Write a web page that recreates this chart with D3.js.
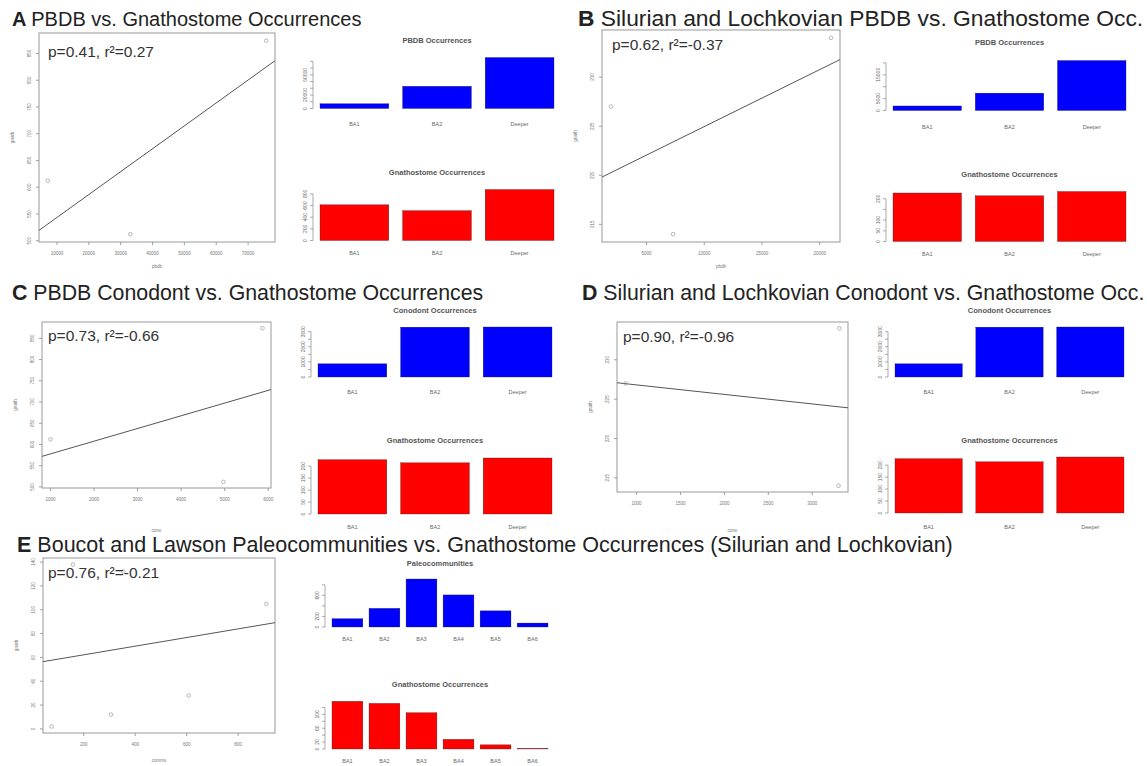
<!DOCTYPE html>
<html>
<head>
<meta charset="utf-8">
<script src="https://cdn.jsdelivr.net/npm/d3@7"></script>
<style>
  body { margin: 0; background: #fff; }
  svg { font-family: "Liberation Sans", Arial, sans-serif; }
</style>
</head>
<body>
<svg width="1147" height="766"></svg>
<script>
// categories
let zones3 = ["BA1", "BA2", "Deeper"];
let zones6 = ["BA1", "BA2", "BA3", "BA4", "BA5", "BA6"];

// occurrence counts per zone
let pbdbAll = [7100, 33000, 75700];
let gnathAll = [612, 512, 874];
let pbdbSilLoch = [1900, 7300, 21000];
let gnathSilLoch = [227, 214, 234];
let conoAll = [1000, 4970, 5870];
let conoSilLoch = [874, 3300, 3310];
let paleoComms = [158, 354, 910, 608, 306, 75];
let gnathComms = [138, 132, 105, 28, 12, 2];

// printed stats
let stats = ["p=0.41, r²=0.27", "p=0.62, r²=-0.37", "p=0.73, r²=-0.66", "p=0.90, r²=-0.96", "p=0.76, r²=-0.21"];

let blue = "#0000ff";
let red = "#ff0000";

let svg = d3.select("svg");
svg.append("rect").attr("width", 1147).attr("height", 766).attr("fill", "#fff");

// panel layout
let panels = [
  { letter: "A", title: "PBDB vs. Gnathostome Occurrences", tx: 12, ty: 26, fs: 20,
    x: pbdbAll, y: gnathAll, xName: "pbdb", stat: stats[0], sx: 48, sy: 57,
    box: [39, 33, 275, 242], xt: 7, yt: 8, xLabY: 268,
    top: { cats: zones3, vals: pbdbAll, title: "PBDB Occurrences", x0: 320, x1: 554, base: 108.5, h: 51, ty: 43, ly: 126 },
    bot: { cats: zones3, vals: gnathAll, title: "Gnathostome Occurrences", x0: 320, x1: 554, base: 240.5, h: 51, ty: 175, ly: 255 } },
  { letter: "B", title: "Silurian and Lochkovian PBDB vs. Gnathostome Occ.", tx: 578, ty: 26, fs: 22.8,
    x: pbdbSilLoch, y: gnathSilLoch, xName: "pbdb", stat: stats[1], sx: 612, sy: 50,
    box: [602, 30, 840, 242], xt: 4, yt: 4, xLabY: 268,
    top: { cats: zones3, vals: pbdbSilLoch, title: "PBDB Occurrences", x0: 893, x1: 1126, base: 110.5, h: 50, ty: 45, ly: 129 },
    bot: { cats: zones3, vals: gnathSilLoch, title: "Gnathostome Occurrences", x0: 893, x1: 1126, base: 241.5, h: 50, ty: 177, ly: 256 } },
  { letter: "C", title: "PBDB Conodont vs. Gnathostome Occurrences", tx: 12, ty: 300, fs: 21.3,
    x: conoAll, y: gnathAll, xName: "cono", stat: stats[2], sx: 48, sy: 341,
    box: [42, 322, 271, 488], xt: 6, yt: 8, xLabY: 532,
    top: { cats: zones3, vals: conoSilLoch, title: "Conodont Occurrences", x0: 318, x1: 552, base: 377, h: 50, ty: 313, ly: 394 },
    bot: { cats: zones3, vals: gnathSilLoch, title: "Gnathostome Occurrences", x0: 318, x1: 552, base: 514, h: 56, ty: 443, ly: 529 } },
  { letter: "D", title: "Silurian and Lochkovian Conodont vs. Gnathostome Occ.", tx: 582, ty: 300, fs: 21.3,
    x: conoSilLoch, y: gnathSilLoch, xName: "cono", stat: stats[3], sx: 623, sy: 342,
    box: [617, 322, 848, 492], xt: 5, yt: 4, xLabY: 532,
    top: { cats: zones3, vals: conoSilLoch, title: "Conodont Occurrences", x0: 895, x1: 1124, base: 377, h: 50, ty: 313, ly: 394 },
    bot: { cats: zones3, vals: gnathSilLoch, title: "Gnathostome Occurrences", x0: 895, x1: 1124, base: 513, h: 56, ty: 443, ly: 529 } },
  { letter: "E", title: "Boucot and Lawson Paleocommunities vs. Gnathostome Occurrences (Silurian and Lochkovian)", tx: 17, ty: 552, fs: 21.5,
    x: paleoComms, y: gnathComms, xName: "comms", stat: stats[4], sx: 48, sy: 578,
    box: [43, 558, 275, 733], xt: 4, yt: 8, xLabY: 762,
    top: { cats: zones6, vals: paleoComms, title: "Paleocommunities", x0: 332, x1: 548, base: 627, h: 48, ty: 566, ly: 641 },
    bot: { cats: zones6, vals: gnathComms, title: "Gnathostome Occurrences", x0: 332, x1: 548, base: 749, h: 47.7, ty: 687, ly: 763 } }
];

// R style 4% padding on both ends
function padExtent(vals) {
  let e = d3.extent(vals);
  let d = (e[1] - e[0]) * 0.04;
  return [e[0] - d, e[1] + d];
}

function drawScatter(p, i) {
  let g = svg.append("g");
  let [bx0, by0, bx1, by1] = p.box;
  let x = d3.scaleLinear().domain(padExtent(p.x)).range([bx0, bx1]);
  let y = d3.scaleLinear().domain(padExtent(p.y)).range([by1, by0]);

  g.append("clipPath").attr("id", "clip" + i)
    .append("rect").attr("x", bx0).attr("y", by0).attr("width", bx1 - bx0).attr("height", by1 - by0);

  // x ticks
  x.ticks(p.xt).forEach(t => {
    g.append("line").attr("x1", x(t)).attr("x2", x(t)).attr("y1", by1).attr("y2", by1 + 3)
      .attr("stroke", "#888").attr("stroke-width", 0.8);
    g.append("text").attr("x", x(t)).attr("y", by1 + 13).attr("text-anchor", "middle")
      .attr("font-size", 4.5).attr("fill", "#777").text(t);
  });
  // y ticks, labels turned like R's las=0
  y.ticks(p.yt).forEach(t => {
    g.append("line").attr("x1", bx0).attr("x2", bx0 - 3).attr("y1", y(t)).attr("y2", y(t))
      .attr("stroke", "#888").attr("stroke-width", 0.8);
    g.append("text").attr("transform", `translate(${bx0 - 8},${y(t)}) rotate(-90)`)
      .attr("text-anchor", "middle").attr("font-size", 4.5).attr("fill", "#777").text(t);
  });

  g.append("text").attr("x", (bx0 + bx1) / 2).attr("y", p.xLabY).attr("text-anchor", "middle")
    .attr("font-size", 4.5).attr("fill", "#777").text(p.xName);
  g.append("text").attr("transform", `translate(${bx0 - 25},${(by0 + by1) / 2}) rotate(-90)`)
    .attr("text-anchor", "middle").attr("font-size", 4.5).attr("fill", "#777").text("gnath");

  g.append("rect").attr("x", bx0).attr("y", by0).attr("width", bx1 - bx0).attr("height", by1 - by0)
    .attr("fill", "none").attr("stroke", "#999").attr("stroke-width", 1);

  // least squares line across the plot region
  let mx = d3.mean(p.x), my = d3.mean(p.y);
  let slope = d3.sum(p.x, (v, k) => (v - mx) * (p.y[k] - my)) / d3.sum(p.x, v => (v - mx) * (v - mx));
  let icpt = my - slope * mx;
  let ends = x.domain().map(v => [v, icpt + slope * v]);
  g.append("path").attr("clip-path", `url(#clip${i})`)
    .attr("d", d3.line().x(d => x(d[0])).y(d => y(d[1]))(ends))
    .attr("fill", "none").attr("stroke", "#555").attr("stroke-width", 1);

  g.selectAll("circle").data(p.x).enter().append("circle")
    .attr("cx", d => x(d)).attr("cy", (d, k) => y(p.y[k])).attr("r", 1.8)
    .attr("fill", "none").attr("stroke", "#999").attr("stroke-width", 0.7);

  g.append("text").attr("x", p.sx).attr("y", p.sy).attr("font-size", 15.5).attr("fill", "#333").text(p.stat);
}

function drawBars(b, color) {
  let g = svg.append("g");
  let x = d3.scaleBand().domain(b.cats).range([b.x0, b.x1]).paddingInner(0.2 / 1.2).paddingOuter(0);
  let y = d3.scaleLinear().domain([0, d3.max(b.vals)]).range([b.base, b.base - b.h]);

  g.selectAll("rect").data(b.vals).enter().append("rect")
    .attr("x", (d, k) => x(b.cats[k])).attr("width", x.bandwidth())
    .attr("y", d => y(d)).attr("height", d => y(0) - y(d))
    .attr("fill", color).attr("stroke", "#222").attr("stroke-width", 0.3);

  // left axis
  let ax = b.x0 - 7;
  let ticks = y.ticks(6);
  g.append("line").attr("x1", ax).attr("x2", ax).attr("y1", y(ticks[0])).attr("y2", y(ticks[ticks.length - 1]))
    .attr("stroke", "#888").attr("stroke-width", 0.7);
  let lastTop = Infinity;
  ticks.forEach(t => {
    g.append("line").attr("x1", ax).attr("x2", ax - 3).attr("y1", y(t)).attr("y2", y(t))
      .attr("stroke", "#888").attr("stroke-width", 0.7);
    let half = String(t).length * 1.6;
    if (y(t) + half < lastTop - 2) {
      g.append("text").attr("transform", `translate(${ax - 6},${y(t)}) rotate(-90)`)
        .attr("text-anchor", "middle").attr("font-size", 5).attr("fill", "#666").text(t);
      lastTop = y(t) - half;
    }
  });

  b.cats.forEach(c => {
    g.append("text").attr("x", x(c) + x.bandwidth() / 2).attr("y", b.ly).attr("text-anchor", "middle")
      .attr("font-size", 5.5).attr("fill", "#666").text(c);
  });
  g.append("text").attr("x", (b.x0 + b.x1) / 2).attr("y", b.ty).attr("text-anchor", "middle")
    .attr("font-size", 7.5).attr("font-weight", "bold").attr("fill", "#555").text(b.title);
}

panels.forEach((p, i) => {
  let t = svg.append("text").attr("x", p.tx).attr("y", p.ty).attr("font-size", p.fs).attr("fill", "#222");
  t.append("tspan").attr("font-weight", "bold").text(p.letter + " ");
  t.append("tspan").text(p.title);
  drawScatter(p, i);
  drawBars(p.top, blue);
  drawBars(p.bot, red);
});
</script>
</body>
</html>
